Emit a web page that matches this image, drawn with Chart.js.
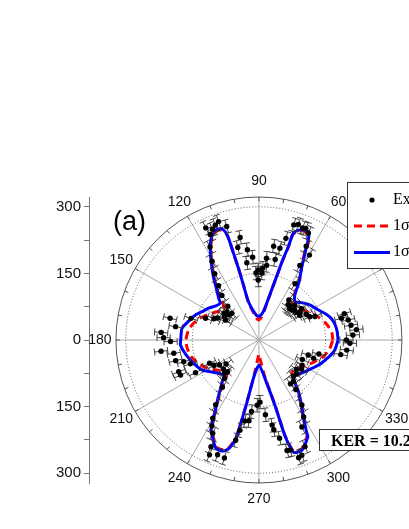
<!DOCTYPE html>
<html><head><meta charset="utf-8">
<style>
html,body{margin:0;padding:0;background:#fff;overflow:hidden;width:409px;height:529px}
#wrap{position:absolute;left:0;top:0;width:480px;height:529px}
</style>
<script src="https://cdn.jsdelivr.net/npm/chart.js@4.4.1/dist/chart.umd.min.js"></script>
</head><body><div id="wrap"><canvas id="c" width="480" height="529"></canvas></div>
<script>
// ---- data ----
const R_MAX = 322;
const RADIAL_TICKS = [-300,-225,-150,-75,0,75,150,225,300];
const ANGLE_LABELS = [0,30,60,90,120,150,180,210,240,270,300,330];
const GRID_CIRCLES = [150,300];
const LEGEND_LABELS = ['Expt.','1\u03c3g + 1\u03c3u','1\u03c3g + 1\u03c3u + 2\u03c3g'];
const KER_TEXT = 'KER = 10.2 eV';
const PANEL_TEXT = '(a)';

const EXP_ANGLE = [3,6,9,12.5,14.6,17,358,0,
 22.5,24.4,28,31,34,37,40,42,45,48,50,53,36,44,
 57,59,61,63,65,67,68.5,
 71,73,75,77,78.5,81,84,84.7,87,87.4,90.6,90.7,92.6,94.4,97.4,
 100.5,103,99,106,109,111,
 113,115.6,115,118,121,124,127,130,
 133,135.7,138.9,140.8,143,146,149.5,152,155,158,162.5,
 166.4,171,175.6,178.6,181,186.5,188.8,193.8,196,199,201.4,203.9,207,
 205,209,212,215.7,219,223.6,225,228,
 232,236,239.2,241,243.4,245.6,246.5,250,253.5,
 256.8,258,260,262.9,264,268.5,271,
 275,278.9,279.5,282,284.4,286,288.8,290.6,
 293.6,296.5,300.4,303.7,307,310,
 306,314,318,322,326,330,336,341.6,343.3,347,353.5,350];
const EXP_R = [214,223,212,208,194,203,207,199,
 138,127,122,108,113,104,106,101,99,104,104,113,120,113,
 151,223,192,237,266,273,271,
 275,271,237,212,185,214,169,185,162,151,158,135,151,187,205,
 235,214,176,266,282,277,
 271,280,262,237,207,180,153,131,
 104,86,97,90,99,95,88,106,113,131,162,
 208,192,223,217,201,224,196,195,178,165,196,195,162,
 124,117,106,92,104,108,101,117,
 135,176,205,221,235,264,282,275,277,
 232,208,185,183,162,147,140,
 169,194,205,226,257,258,280,277,
 262,219,201,176,140,122,
 122,113,115,108,117,113,108,131,117,140,201,189];
const EXP_ERR = 15;

const BLUE_ANGLE = [0,6,12.3,17.4,21.9,27.3,34.3,40,46.5,51.1,54.8,59.4,62.3,64.3,66.9,69.4,72,72.3,73.2,74,75.1,76.8,79.4,83.4,90,
 96.8,105.6,105.9,106.1,106.5,106.8,107.3,108.7,111,113.7,116.5,119,122.5,126.5,130.4,134.3,136.7,141.3,148,153.6,158.7,165.4,171.4,180,
 183.6,190.7,199.2,207.9,215.8,225,227.5,233,237,239.5,241.8,248.2,252,254.5,256.7,258.7,262.2,270,
 279.4,284,285.4,287.4,291.5,297,297.4,299.6,303,307.6,313.6,324.6,337.4,346.3,352.6,360];
const BLUE_R = [180,179,176,170,161,150,140,130,119,130,157,192,229,262,269,265,253,221,192,160,128,99,73,59,53,
 57,90,129,168,204,240,254,264,267,261,247,228,201,173,148,131,121,124,135,144,155,166,177,178,
 179,170,158,145,125,112,122,150,179,204,230,263,263,253,228,153,83,56,
 91,155,226,265,267,245,237,208,179,148,114,125,147,163,174,180];

const RED_ANGLE = [0,5,9.3,15,21.4,27,33.9,38,42,46,49,52,54.8,57,59.4,62.3,62.8,64.3,66.9,69.4,72,72.3,73.2,74,75.1,76.8,79.4,83.4,90,
 96.8,105.6,105.9,106.1,106.5,106.8,107.3,108.7,111,113.7,116.5,119,122.5,126.5,130.4,133.5,136,139,143,148,154,160,166,172,180,
 187,194,201,208,214,220,224,228,230.5,233,237,239.5,241.8,248.2,252,254.5,256.7,258.7,262.2,266,270,
 274,279.4,284,285.4,287.4,291.5,297,297.4,299.6,303,307.6,311,315,320,326,333,340,346.3,352.6,360];
const RED_R = [168,167,163,155,144,132,121,116,113,112,115,131,155,175,190,226,246,259,266,262,250,218,189,157,125,96,68,52,45,
 50,87,126,165,201,237,251,261,264,258,244,225,198,170,145,124,111,106,109,118,130,143,154,162,166,
 164,158,148,134,120,108,104,110,125,146,176,201,227,260,260,250,225,150,78,45,32,
 45,86,151,223,262,264,242,234,205,176,145,122,106,104,110,124,138,152,162,168];

// ---- helpers ----
const D2R = Math.PI/180;
const toXY = (a, r) => ({x: r*Math.cos(a*D2R), y: r*Math.sin(a*D2R)});
const polarData = (A, R) => A.map((a, i) => toXY(a, R[i]));

// layout: axis line at x=89, top 197, bottom 483, centre x 260.7
const CANVAS_W = 480, AXIS_LEFT = 89, TOP = 197, BOTTOM = 483, CX = 260.7;
const PPU = (BOTTOM - TOP) / (2*R_MAX);
const X_MIN = -(CX - AXIS_LEFT) / PPU;
const X_MAX = (CANVAS_W - CX) / PPU;

const polarGrid = {
  id: 'polarGrid',
  beforeDatasetsDraw(chart) {
    const {ctx, scales: {x, y}} = chart;
    const cx = x.getPixelForValue(0), cy = y.getPixelForValue(0);
    const rp = v => cy - y.getPixelForValue(v);
    const R = rp(R_MAX);
    ctx.save();
    ctx.strokeStyle = '#a8a8a8'; ctx.lineWidth = 1;
    ANGLE_LABELS.forEach(a => {
      ctx.beginPath(); ctx.moveTo(cx, cy);
      ctx.lineTo(cx + R*Math.cos(a*D2R), cy - R*Math.sin(a*D2R)); ctx.stroke();
    });
    ctx.strokeStyle = '#555'; ctx.setLineDash([1,2]);
    GRID_CIRCLES.forEach(v => { ctx.beginPath(); ctx.arc(cx, cy, rp(v), 0, 2*Math.PI); ctx.stroke(); });
    ctx.setLineDash([]);
    ctx.strokeStyle = '#555'; ctx.lineWidth = 1;
    ctx.beginPath(); ctx.arc(cx, cy, R, 0, 2*Math.PI); ctx.stroke();
    for (let a = 0; a < 360; a += 10) {
      const c = Math.cos(a*D2R), s = Math.sin(a*D2R);
      ctx.beginPath(); ctx.moveTo(cx + R*c, cy - R*s); ctx.lineTo(cx + (R-4)*c, cy - (R-4)*s); ctx.stroke();
    }
    ctx.fillStyle = '#111'; ctx.font = '14px "Liberation Sans", Arial, sans-serif';
    ctx.textAlign = 'center'; ctx.textBaseline = 'middle';
    ANGLE_LABELS.forEach(a => {
      const L = R + 16;
      ctx.fillText(String(a), cx + L*Math.cos(a*D2R), cy - L*Math.sin(a*D2R));
    });
    ctx.restore();
  },
  beforeDatasetDraw(chart, args) {
    if (args.index !== 0) return;
    const {ctx, scales: {x, y}} = chart;
    ctx.save();
    ctx.strokeStyle = '#333'; ctx.lineWidth = 0.9;
    EXP_ANGLE.forEach((a, i) => {
      const r = EXP_R[i];
      const c = Math.cos(a*D2R), s = Math.sin(a*D2R);
      const p1 = [x.getPixelForValue((r-EXP_ERR)*c), y.getPixelForValue((r-EXP_ERR)*s)];
      const p2 = [x.getPixelForValue((r+EXP_ERR)*c), y.getPixelForValue((r+EXP_ERR)*s)];
      ctx.beginPath(); ctx.moveTo(p1[0], p1[1]); ctx.lineTo(p2[0], p2[1]);
      const tx = -s*3.5, ty = -c*3.5;
      [p1, p2].forEach(p => { ctx.moveTo(p[0]-tx, p[1]-ty); ctx.lineTo(p[0]+tx, p[1]+ty); });
      ctx.stroke();
    });
    ctx.restore();
  },
  afterDraw(chart) {
    const {ctx} = chart;
    ctx.save();
    ctx.fillStyle = '#000'; ctx.font = '27px "Liberation Sans", Arial, sans-serif';
    ctx.textAlign = 'left'; ctx.textBaseline = 'alphabetic';
    ctx.fillText(PANEL_TEXT, 113, 230);
    ctx.fillStyle = '#fff'; ctx.strokeStyle = '#333'; ctx.lineWidth = 1;
    ctx.fillRect(347.5, 182.5, 130, 86); ctx.strokeRect(347.5, 182.5, 130, 86);
    ctx.font = '16px "Liberation Serif", "Times New Roman", serif';
    ctx.textBaseline = 'middle'; ctx.fillStyle = '#000';
    ctx.beginPath(); ctx.arc(372, 200, 2.6, 0, 2*Math.PI); ctx.fill();
    ctx.fillText(LEGEND_LABELS[0], 393, 200);
    ctx.strokeStyle = '#ff0000'; ctx.lineWidth = 3; ctx.setLineDash([8,5]);
    ctx.beginPath(); ctx.moveTo(354, 226); ctx.lineTo(390, 226); ctx.stroke();
    ctx.setLineDash([]);
    ctx.fillText(LEGEND_LABELS[1], 393, 226);
    ctx.strokeStyle = '#0000ff';
    ctx.beginPath(); ctx.moveTo(354, 252.5); ctx.lineTo(390, 252.5); ctx.stroke();
    ctx.fillText(LEGEND_LABELS[2], 393, 252);
    ctx.fillStyle = '#fff'; ctx.strokeStyle = '#333'; ctx.lineWidth = 1;
    ctx.fillRect(319.5, 429.5, 140, 21); ctx.strokeRect(319.5, 429.5, 140, 21);
    ctx.fillStyle = '#000'; ctx.font = 'bold 16px "Liberation Serif", "Times New Roman", serif';
    ctx.textBaseline = 'alphabetic';
    ctx.fillText(KER_TEXT, 331, 445.5);
    ctx.restore();
  }
};

new Chart(document.getElementById('c'), {
  type: 'scatter',
  data: {
    datasets: [
      {label: LEGEND_LABELS[0], data: polarData(EXP_ANGLE, EXP_R), showLine: false,
       pointRadius: 2.7, pointBackgroundColor: '#000', pointBorderColor: '#000', pointBorderWidth: 0},
      {label: LEGEND_LABELS[2], data: polarData(BLUE_ANGLE, BLUE_R), showLine: true,
       borderColor: '#0000ff', borderWidth: 3, pointRadius: 0, tension: 0.2, fill: false},
      {label: LEGEND_LABELS[1], data: polarData(RED_ANGLE, RED_R), showLine: true,
       borderColor: '#ff0000', borderWidth: 3, borderDash: [8,5], pointRadius: 0, tension: 0.2, fill: false}
    ]
  },
  options: {
    responsive: false, animation: false, devicePixelRatio: 1,
    layout: {padding: {top: TOP, bottom: 529 - BOTTOM, left: 0, right: 0}},
    plugins: {legend: {display: false}, tooltip: {enabled: false}},
    scales: {
      x: {type: 'linear', display: false, min: X_MIN, max: X_MAX},
      y: {type: 'linear', min: -R_MAX, max: R_MAX,
          afterBuildTicks: s => { s.ticks = RADIAL_TICKS.map(v => ({value: v})); },
          afterFit: s => { s.width = AXIS_LEFT; },
          grid: {drawOnChartArea: false, drawTicks: true, tickLength: 5, color: '#777'},
          border: {display: true, color: '#777'},
          ticks: {padding: 3, color: '#111', font: {size: 15, family: '"Liberation Sans", Arial, sans-serif'},
                  callback: v => (v % 150 === 0 ? String(Math.abs(v)) : '')}}
    }
  },
  plugins: [polarGrid]
});
</script>
</body></html>
